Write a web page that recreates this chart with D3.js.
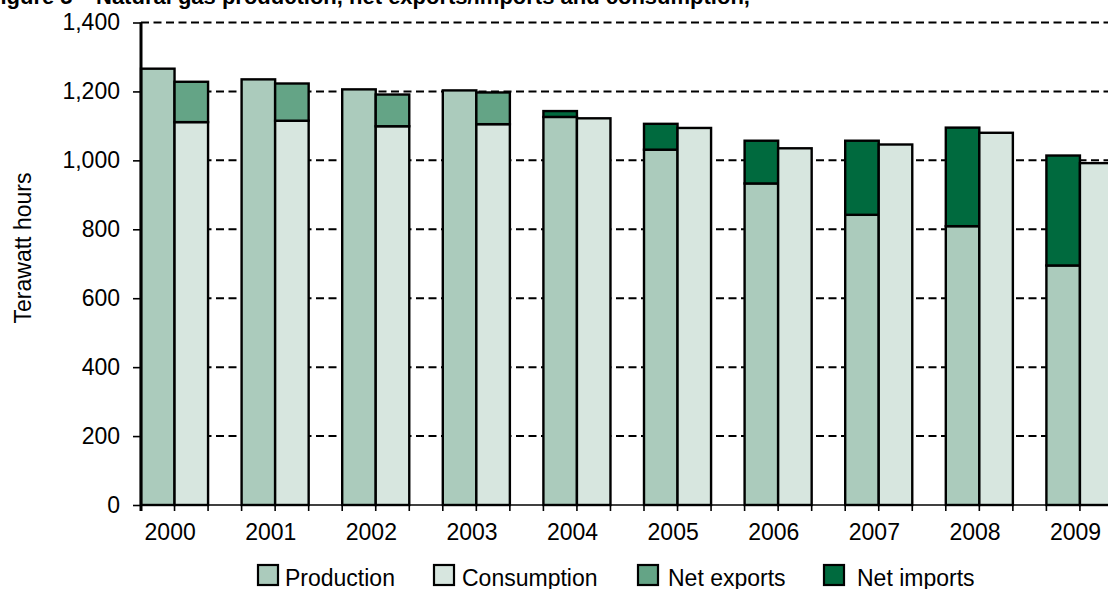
<!DOCTYPE html>
<html lang="en">
<head>
<meta charset="utf-8"/>
<title>Natural gas production, net exports/imports and consumption</title>
<script src="https://d3js.org/d3.v7.min.js"></script>
<style>
	body { margin: 0; background: #fff; }
	svg { display: block; font-family: "Liberation Sans", Arial, Helvetica, sans-serif; }
</style>
</head>
<body>
<script>
// chart data (terawatt hours)
	var years = ["2000", "2001", "2002", "2003", "2004", "2005", "2006", "2007", "2008", "2009"];
	var production  = [1266, 1235, 1206, 1203, 1126, 1031, 933, 842, 809, 695];
	var consumption = [1111, 1115, 1099, 1105, 1122, 1094, 1035, 1046, 1080, 992];
	var netExports  = [117, 108, 92, 92, 0, 0, 0, 0, 0, 0];
	var netImports  = [0, 0, 0, 0, 17, 75, 124, 215, 286, 319];
	var yTicks = [0, 200, 400, 600, 800, 1000, 1200, 1400];
	var legendLabels = ["Production", "Consumption", "Net exports", "Net imports"];
	var colours = ["#abcbbc", "#d7e6df", "#64a486", "#006a3e"];

	var w = 1108;
	var h = 589;
	var plotLeft = 141, plotTop = 22.5, plotBottom = 505;

	var svg = d3.select("body")
				.append("svg")
				.attr("width", w)
				.attr("height", h);

// the plot runs on past the right edge of the picture, as in the original
	var xScale = d3.scaleBand()
				.domain(years)
				.range([plotLeft, plotLeft + 10 * 100.6]);
	var barW = xScale.bandwidth() / 3;

	var yScale = d3.scaleLinear()
				.domain([0, 1400])
				.range([plotBottom, plotTop]);

// title, cut off at the top
	svg.append("text")
		.attr("x", -13)
		.attr("y", 4)
		.attr("font-size", "22px")
		.attr("font-weight", "bold")
		.text("Figure 5");
	svg.append("text")
		.attr("x", 96)
		.attr("y", 4)
		.attr("font-size", "22px")
		.attr("font-weight", "bold")
		.text("Natural gas production, net exports/imports and consumption,");

// dashed gridlines
	svg.selectAll(".grid")
		.data(yTicks.slice(1))
		.enter()
		.append("line")
		.attr("class", "grid")
		.attr("x1", plotLeft)
		.attr("x2", w)
		.attr("y1", function(d) {return yScale(d);})
		.attr("y2", function(d) {return yScale(d);})
		.attr("stroke", "#000")
		.attr("stroke-width", 2)
		.attr("stroke-dasharray", "8,4.5");

// build the two stacks for each year
	var rects = [];
	years.forEach(function(y, i) {
		var x0 = xScale(y);
		rects.push({x: x0, y0: 0, y1: production[i], c: colours[0]});
		if (netImports[i] > 0) rects.push({x: x0, y0: production[i], y1: production[i] + netImports[i], c: colours[3]});
		rects.push({x: x0 + barW, y0: 0, y1: consumption[i], c: colours[1]});
		if (netExports[i] > 0) rects.push({x: x0 + barW, y0: consumption[i], y1: consumption[i] + netExports[i], c: colours[2]});
	});

	svg.selectAll(".bar")
		.data(rects)
		.enter()
		.append("rect")
		.attr("class", "bar")
		.attr("x", function(d) {return d.x;})
		.attr("y", function(d) {return yScale(d.y1);})
		.attr("width", barW)
		.attr("height", function(d) {return yScale(d.y0) - yScale(d.y1);})
		.attr("fill", function(d) {return d.c;})
		.attr("stroke", "#000")
		.attr("stroke-width", 2.4);

// y axis
	var yAxis = d3.axisLeft(yScale)
				.tickValues(yTicks)
				.tickSize(8)
				.tickPadding(13)
				.tickFormat(d3.format(","));
	var gy = svg.append("g")
		.attr("transform", "translate(" + plotLeft + ",0)")
		.call(yAxis);
	gy.select(".domain").remove();
	gy.selectAll("line").attr("stroke", "#000").attr("stroke-width", 1.6);
	gy.selectAll("text").attr("font-size", "23px").attr("fill", "#000").attr("font-family", null);
	svg.append("line")
		.attr("x1", plotLeft).attr("x2", plotLeft)
		.attr("y1", plotTop).attr("y2", plotBottom + 6)
		.attr("stroke", "#000")
		.attr("stroke-width", 3);

// x axis with ticks at every bar edge
	svg.append("line")
		.attr("x1", plotLeft).attr("x2", w)
		.attr("y1", plotBottom).attr("y2", plotBottom)
		.attr("stroke", "#000")
		.attr("stroke-width", 1.6);
	var edges = [];
	years.forEach(function(y) {
		edges.push(xScale(y), xScale(y) + barW, xScale(y) + 2 * barW);
	});
	svg.selectAll(".xtick")
		.data(edges)
		.enter()
		.append("line")
		.attr("class", "xtick")
		.attr("x1", function(d) {return d;})
		.attr("x2", function(d) {return d;})
		.attr("y1", plotBottom)
		.attr("y2", plotBottom + 6)
		.attr("stroke", "#000")
		.attr("stroke-width", 1.6);

	svg.selectAll(".xlabel")
		.data(years)
		.enter()
		.append("text")
		.attr("class", "xlabel")
		.attr("x", function(d) {return xScale(d) + barW * 0.87;})
		.attr("y", 540)
		.attr("text-anchor", "middle")
		.attr("font-size", "23px")
		.text(function(d) {return d;});

// y axis title
	svg.append("text")
		.attr("transform", "translate(31,248) rotate(-90)")
		.attr("text-anchor", "middle")
		.attr("font-size", "23px")
		.text("Terawatt hours");

// legend
	var legendX = [258, 434, 638, 824];
	var legendTextX = [285, 462, 668, 857];
	var legend = svg.selectAll(".legend")
		.data(legendLabels)
		.enter()
		.append("g")
		.attr("class", "legend");
	legend.append("rect")
		.attr("x", function(d, i) {return legendX[i];})
		.attr("y", 565)
		.attr("width", 20)
		.attr("height", 20)
		.attr("fill", function(d, i) {return colours[i];})
		.attr("stroke", "#000")
		.attr("stroke-width", 2.2);
	legend.append("text")
		.attr("x", function(d, i) {return legendTextX[i];})
		.attr("y", 586)
		.attr("font-size", "23px")
		.text(function(d) {return d;});
</script>
</body>
</html>
